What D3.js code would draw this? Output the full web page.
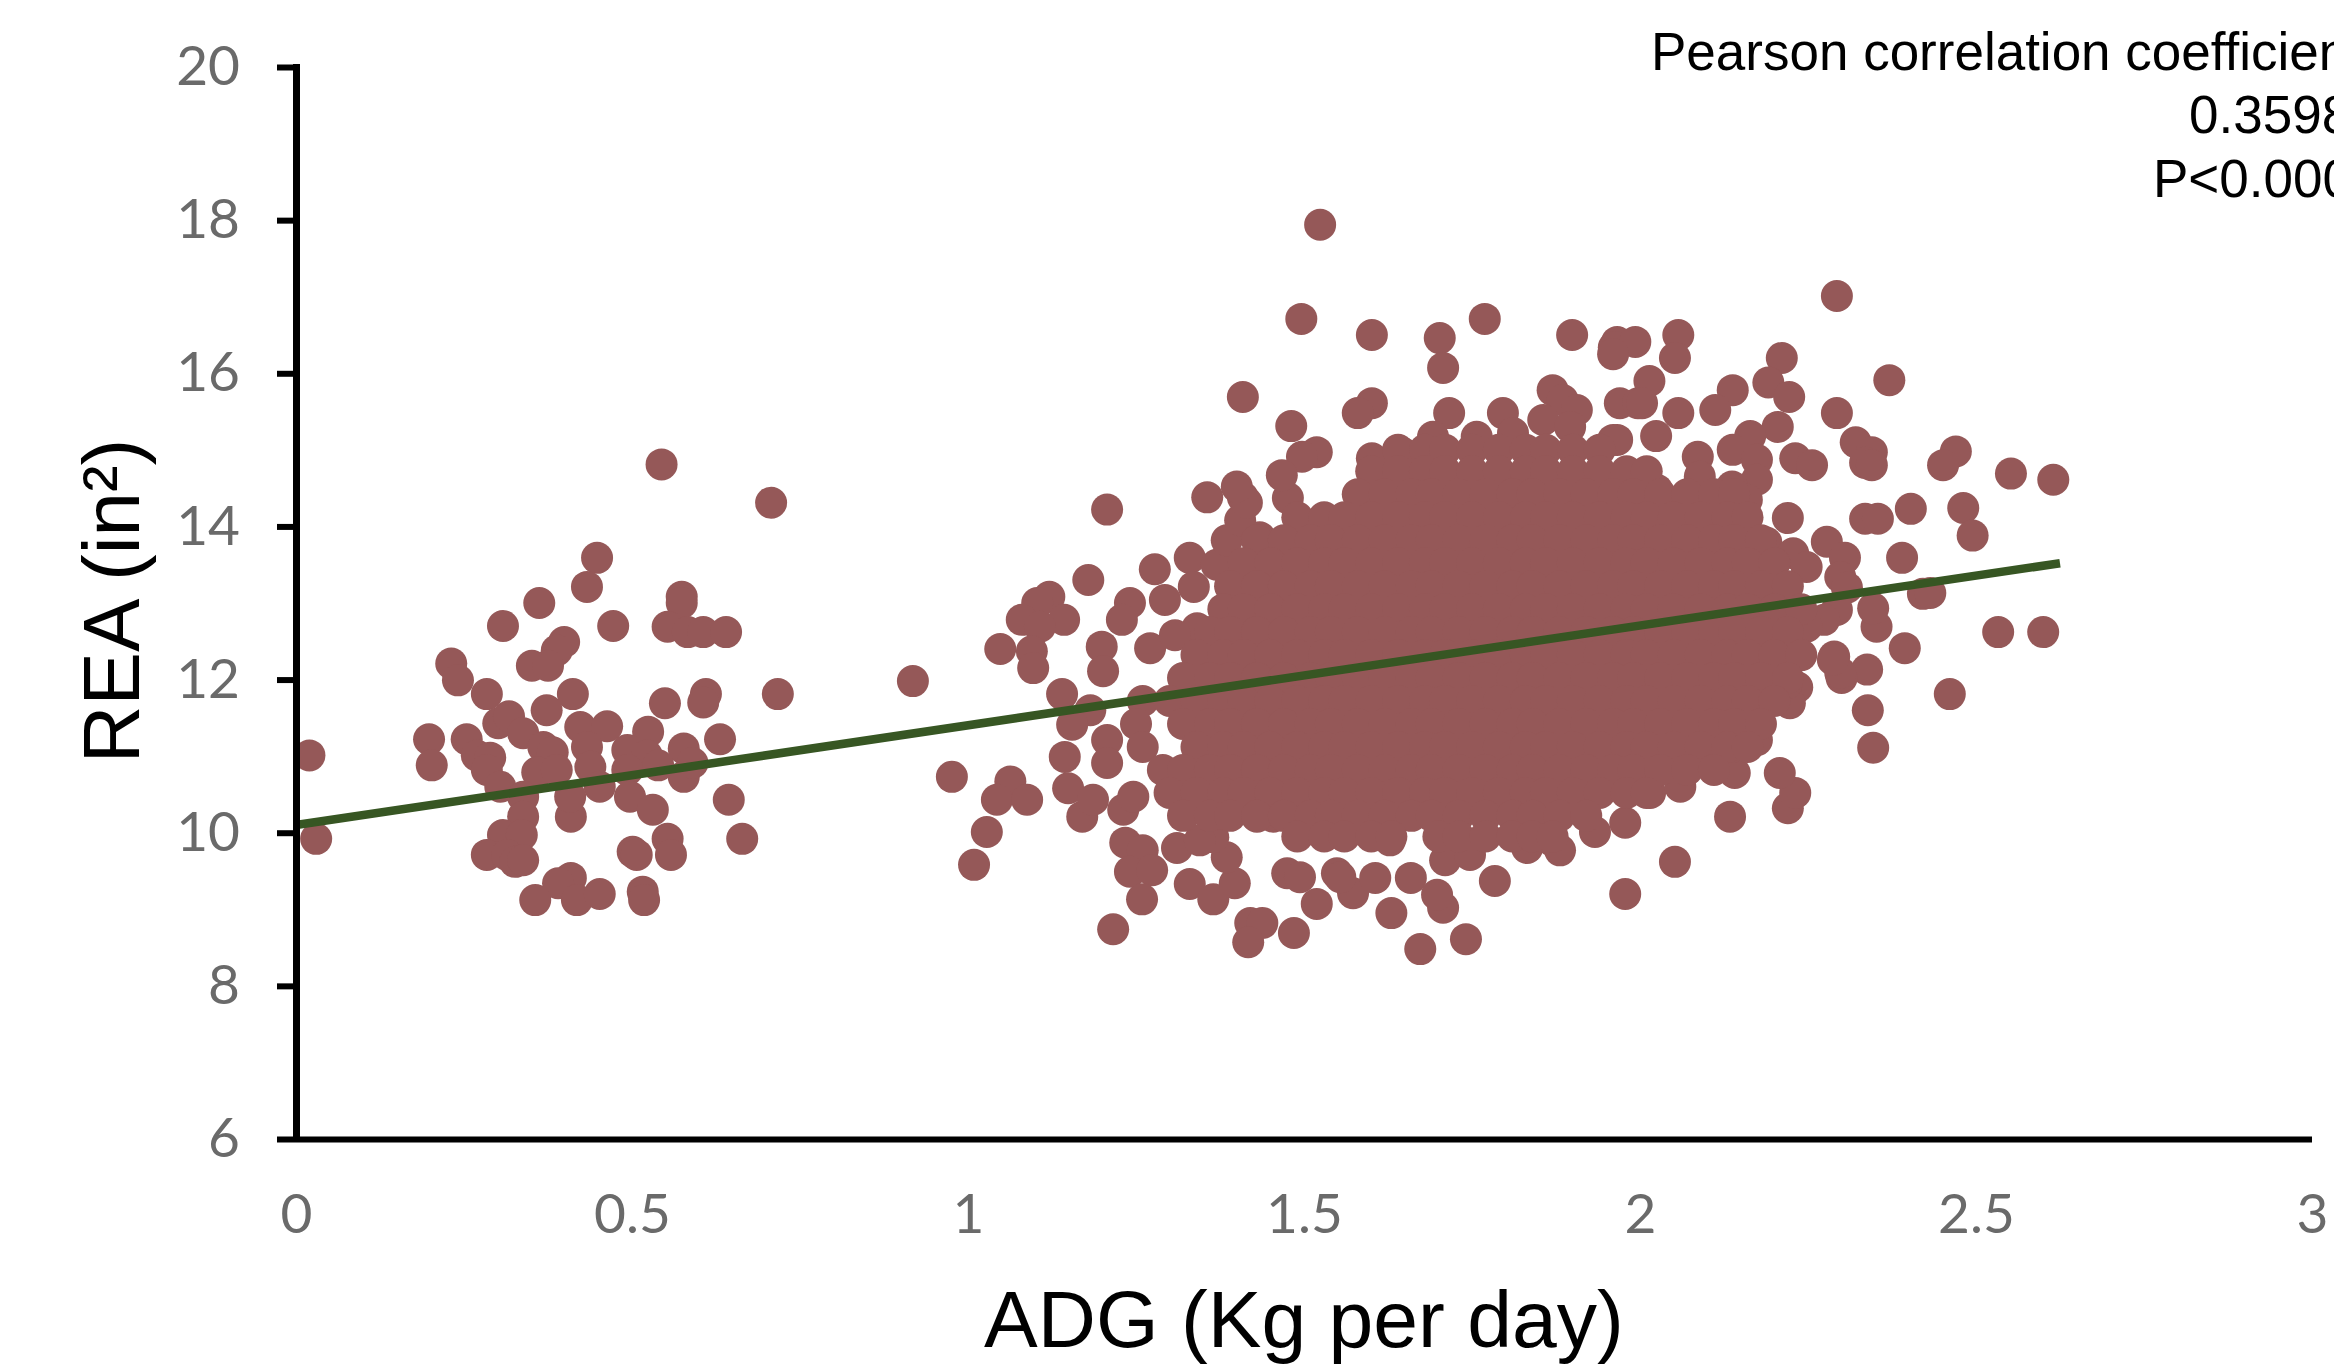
<!DOCTYPE html>
<html><head><meta charset="utf-8">
<script src="https://cdn.jsdelivr.net/npm/d3@7/dist/d3.min.js"></script>
<style>html,body{margin:0;padding:0;background:#fff;overflow:hidden}svg{display:block}</style>
</head><body><svg id="c" width="2334" height="1368"></svg>
<script>
const xTicks=[0,0.5,1,1.5,2,2.5,3];
const yTicks=[6,8,10,12,14,16,18,20];
const xTitle="ADG (Kg per day)";
const yTitle="REA (in²)";
const noteLines=["Pearson correlation coefficient","0.3598","P<0.0001"];
const trend=[[0,10.10],[2.625,13.52]];

const leftCluster=[[.544,14.81],[.707,14.31],[.448,13.59],[.433,13.21],[.362,13.0],[.308,12.70],[.472,12.70],[.574,13.08],[.574,13.0],[.553,12.69],[.583,12.62],[.606,12.62],[.640,12.62],[.399,12.49],[.388,12.38],[.351,12.18],[.375,12.18],[.231,12.21],[.241,11.99],[.284,11.81],[.412,11.81],[.373,11.60],[.717,11.81],[.610,11.81],[.606,11.70],[.549,11.69],[.198,11.22],[.202,10.88],[.020,11.01],[.030,9.92],[.631,11.22],[.577,11.10],[.644,10.43],[.664,9.92],[.577,10.73],[.59,10.91],[.254,11.22],[.269,11.01],[.289,10.98],[.284,10.82],[.304,10.60],[.301,11.43],[.317,11.52],[.338,11.30],[.368,11.12],[.382,11.05],[.359,10.79],[.423,11.38],[.463,11.39],[.433,11.12],[.438,10.86],[.388,10.82],[.524,11.32],[.493,11.08],[.522,11.01],[.493,10.82],[.539,10.88],[.452,10.60],[.497,10.47],[.531,10.30],[.409,10.21],[.408,10.47],[.338,10.47],[.338,10.21],[.308,9.97],[.336,9.97],[.284,9.71],[.314,9.71],[.326,9.62],[.338,9.64],[.501,9.75],[.507,9.71],[.553,9.92],[.558,9.71],[.409,9.41],[.390,9.34],[.356,9.12],[.418,9.12],[.452,9.20],[.516,9.23],[.518,9.12]];

const leftShoulder=[[1.207,14.22],[1.356,14.38],[1.409,14.38],[1.476,14.37],[1.179,13.30],[1.278,13.44],[1.330,13.59],[1.370,13.50],[1.293,13.04],[1.336,13.21],[1.241,13.00],[1.229,12.78],[1.121,13.08],[1.103,13.0],[1.080,12.78],[1.143,12.78],[1.107,12.69],[1.048,12.40],[1.095,12.37],[1.097,12.15],[1.199,12.43],[1.201,12.11],[1.271,12.41],[.918,11.98],[1.140,11.81],[1.182,11.60],[1.155,11.41],[1.207,11.21],[1.144,10.99],[1.207,10.91],[1.149,10.58],[.976,10.73],[1.063,10.67],[1.043,10.43],[1.088,10.43],[1.028,10.01],[1.009,9.58],[1.170,10.21],[1.186,10.43],[1.231,10.30],[1.246,10.47],[1.234,9.87],[1.260,9.77],[1.311,9.80],[1.241,9.49],[1.274,9.51],[1.259,9.13],[1.216,8.74],[1.330,9.33],[1.365,9.13],[1.397,9.34],[1.385,9.68],[1.365,9.94],[1.420,8.82],[1.438,8.82],[1.417,8.57],[1.485,8.69],[1.475,9.47],[1.494,9.42],[1.519,9.07],[1.573,9.21],[1.549,9.47],[1.341,12.67],[1.308,12.58],[1.400,12.83],[1.434,13.86],[1.385,13.82],[1.405,14.08],[1.415,14.31],[1.400,14.52]];

const topFringe=[[1.524,17.94],[1.496,16.71],[1.601,16.50],[1.702,16.46],[1.769,16.71],[1.707,16.07],[1.899,16.50],[1.961,16.34],[1.966,16.41],[1.409,15.69],[1.481,15.31],[1.601,15.61],[1.580,15.48],[1.519,14.97],[1.497,14.91],[1.467,14.67],[1.601,14.89],[1.647,14.96],[1.716,15.48],[1.692,15.17],[1.757,15.17],[1.796,15.48],[1.811,15.22],[1.870,15.78],[1.885,15.65],[1.906,15.52],[1.856,15.39],[1.896,15.30],[1.970,15.61],[1.997,15.61],[1.960,15.13]];

const rightFringe=[[2.293,17.01],[2.057,16.50],[2.052,16.20],[1.963,16.34],[1.993,16.41],[1.960,16.25],[2.014,15.90],[2.003,15.61],[2.024,15.18],[2.211,16.20],[2.191,15.88],[2.222,15.69],[2.371,15.91],[2.138,15.78],[2.057,15.48],[2.112,15.52],[2.205,15.30],[2.293,15.48],[2.164,15.18],[2.321,15.10],[2.345,14.97],[2.335,14.83],[2.345,14.80],[2.470,14.98],[2.451,14.80],[2.552,14.69],[2.615,14.61],[2.231,14.89],[2.256,14.80],[2.086,14.91],[2.138,15.00],[2.174,14.87],[2.089,14.65],[2.174,14.61],[2.137,14.52],[2.159,14.35],[1.966,15.13],[2.0,14.61],[2.025,14.48],[2.220,14.11],[2.335,14.10],[2.354,14.10],[2.403,14.23],[2.481,14.24],[2.495,13.88],[2.278,13.80],[2.305,13.59],[2.390,13.59],[2.188,13.79],[2.228,13.65],[2.248,13.47],[2.298,13.34],[2.308,13.20],[2.421,13.12],[2.432,13.13],[2.533,12.62],[2.600,12.62],[2.394,12.41],[2.352,12.69],[2.347,12.93],[2.293,12.91],[2.274,12.78],[2.248,12.69],[2.218,12.65],[2.289,12.30],[2.338,12.13],[2.300,12.02],[2.339,11.60],[2.461,11.81],[2.347,11.11],[2.234,11.90],[2.134,10.21],[2.220,10.32],[2.231,10.52],[2.208,10.78],[2.141,10.78],[2.052,9.62],[1.978,9.20],[1.933,10.01],[1.978,10.13],[2.015,10.52],[2.060,10.60],[2.089,10.99],[2.138,11.12],[2.174,11.21],[2.223,11.69],[2.218,11.95],[2.298,12.09],[2.287,12.26],[2.183,11.69]];

const bottomFringe=[[1.606,9.41],[1.659,9.41],[1.630,8.95],[1.673,8.48],[1.741,8.61],[1.707,9.02],[1.698,9.19],[1.784,9.37],[1.710,9.64],[1.747,9.71],[1.832,9.80],[1.869,9.90],[1.628,9.90],[1.554,9.42],[1.430,10.21],[1.454,10.21],[1.345,9.90],[1.881,9.77]];

const coreADG_150=[1.64,1.68,1.71,1.75,1.79,1.83,1.86,1.90,1.94];
const coreADG_147=[1.60,1.64,1.68,1.71,1.75,1.79,1.83,1.86,1.90,1.94,1.98,2.01];
const coreADG_144=[1.58,1.62,1.66,1.69,1.73,1.77,1.81,1.84,1.88,1.92,1.96,1.99,2.03,2.07,2.11,2.14];
const coreADG_141=[1.49,1.53,1.56,1.60,1.64,1.68,1.71,1.75,1.79,1.83,1.86,1.90,1.94,1.98,2.01,2.05,2.09,2.13,2.16];
const coreADG_138=[1.43,1.47,1.51,1.54,1.58,1.62,1.66,1.69,1.73,1.77,1.81,1.84,1.88,1.92,1.96,1.99,2.03,2.07,2.11,2.14,2.18];
const coreADG_135=[1.41,1.45,1.49,1.53,1.56,1.60,1.64,1.68,1.71,1.75,1.79,1.83,1.86,1.90,1.94,1.98,2.01,2.05,2.09,2.13,2.16,2.20];
const coreADG_132=[1.39,1.43,1.47,1.51,1.54,1.58,1.62,1.66,1.69,1.73,1.77,1.81,1.84,1.88,1.92,1.96,1.99,2.03,2.07,2.11,2.14,2.18,2.22];
const coreADG_129=[1.38,1.41,1.45,1.49,1.53,1.56,1.60,1.64,1.68,1.71,1.75,1.79,1.83,1.86,1.90,1.94,1.98,2.01,2.05,2.09,2.13,2.16,2.20,2.24];
const coreADG_126=[1.36,1.39,1.43,1.47,1.51,1.54,1.58,1.62,1.66,1.69,1.73,1.77,1.81,1.84,1.88,1.92,1.96,1.99,2.03,2.07,2.11,2.14,2.18,2.22];
const coreADG_123=[1.34,1.38,1.41,1.45,1.49,1.53,1.56,1.60,1.64,1.68,1.71,1.75,1.79,1.83,1.86,1.90,1.94,1.98,2.01,2.05,2.09,2.13,2.16,2.20,2.24];
const coreADG_120=[1.32,1.36,1.39,1.43,1.47,1.51,1.54,1.58,1.62,1.66,1.69,1.73,1.77,1.81,1.84,1.88,1.92,1.96,1.99,2.03,2.07,2.11,2.14,2.18,2.22];
const coreADG_117=[1.26,1.30,1.34,1.38,1.41,1.45,1.49,1.53,1.56,1.60,1.64,1.68,1.71,1.75,1.79,1.83,1.86,1.90,1.94,1.98,2.01,2.05,2.09,2.13,2.16,2.20];
const coreADG_114=[1.25,1.32,1.36,1.39,1.43,1.47,1.51,1.54,1.58,1.62,1.66,1.69,1.73,1.77,1.81,1.84,1.88,1.92,1.96,1.99,2.03,2.07,2.11,2.14,2.18];
const coreADG_111=[1.26,1.34,1.38,1.41,1.45,1.49,1.53,1.56,1.60,1.64,1.68,1.71,1.75,1.79,1.83,1.86,1.90,1.94,1.98,2.01,2.05,2.09,2.13,2.16];
const coreADG_108=[1.29,1.32,1.36,1.39,1.43,1.47,1.51,1.54,1.58,1.62,1.66,1.69,1.73,1.77,1.81,1.84,1.88,1.92,1.96,1.99,2.03,2.07,2.11];
const coreADG_105=[1.30,1.34,1.38,1.41,1.45,1.49,1.53,1.56,1.60,1.64,1.68,1.71,1.75,1.79,1.83,1.86,1.90,1.94,1.98,2.01];
const coreADG_102=[1.32,1.36,1.39,1.43,1.47,1.51,1.54,1.58,1.62,1.66,1.69,1.73,1.77,1.81,1.84,1.88,1.92];
const coreADG_099=[1.49,1.53,1.56,1.60,1.63,1.70,1.73,1.77,1.81,1.84,1.87];
const coreRows=[[15.0,coreADG_150],[14.72,coreADG_147],[14.42,coreADG_144],[14.12,coreADG_141],[13.82,coreADG_138],[13.52,coreADG_135],[13.22,coreADG_132],[12.92,coreADG_129],[12.62,coreADG_126],[12.32,coreADG_123],[12.02,coreADG_120],[11.72,coreADG_117],[11.42,coreADG_114],[11.12,coreADG_111],[10.82,coreADG_108],[10.52,coreADG_105],[10.22,coreADG_102],[9.95,coreADG_099]];

const x=d3.scaleLinear().domain([0,3]).range([296,2312]);
const y=d3.scaleLinear().domain([6,20]).range([1139,67]);
const svg=d3.select("#c");

const points=[...leftCluster,...leftShoulder,...topFringe,...rightFringe,...bottomFringe,
  ...coreRows.flatMap(([v,xs])=>xs.map(a=>[a,v]))];
svg.append("g").selectAll("circle").data(points).join("circle")
  .attr("cx",d=>x(d[0])).attr("cy",d=>y(d[1])).attr("r",16).attr("fill","#955858");

svg.append("path").datum(trend)
  .attr("d",d3.line().x(d=>x(d[0])).y(d=>y(d[1])))
  .attr("fill","none").attr("stroke","#375623").attr("stroke-width",8.5);

const ax=svg.append("g").attr("transform","translate(0,1139)")
  .call(d3.axisBottom(x).tickValues(xTicks).tickSize(0).tickPadding(55).tickFormat(d3.format("~g")));
const ay=svg.append("g").attr("transform","translate(296,0)")
  .call(d3.axisLeft(y).tickValues(yTicks).tickSize(19).tickPadding(37).tickFormat(d3.format("d")));
[ax,ay].forEach(g=>{
  g.selectAll(".domain").attr("stroke","#000").attr("stroke-width",7);
  g.selectAll("line").attr("stroke","#000").attr("stroke-width",6);
  g.selectAll("text").attr("font-family","Lato").attr("font-weight",400).attr("font-size",55).attr("fill","#6a6a6a");
});
ax.select(".domain").attr("d","M296,0.5H2312").attr("stroke-width",6);
ay.select(".domain").attr("d","M0.5,64V1142");
ax.selectAll("text").attr("dy",null).attr("y",94);

svg.append("text").text(xTitle).attr("x",1304).attr("y",1347).attr("text-anchor","middle")
  .attr("font-family","Liberation Sans").attr("font-size",80.5).attr("fill","#000");
svg.append("text").text(yTitle).attr("transform","translate(139,601) rotate(-90)").attr("text-anchor","middle")
  .attr("font-family","Liberation Sans").attr("font-size",80).attr("fill","#000");

const noteX=[1651,2189,2153], noteY=[70,133,197];
svg.append("g").selectAll("text").data(noteLines).join("text").text(d=>d)
  .attr("x",(d,i)=>noteX[i]).attr("y",(d,i)=>noteY[i])
  .attr("font-family","Liberation Sans").attr("font-size",53).attr("fill","#000");
</script></body></html>
